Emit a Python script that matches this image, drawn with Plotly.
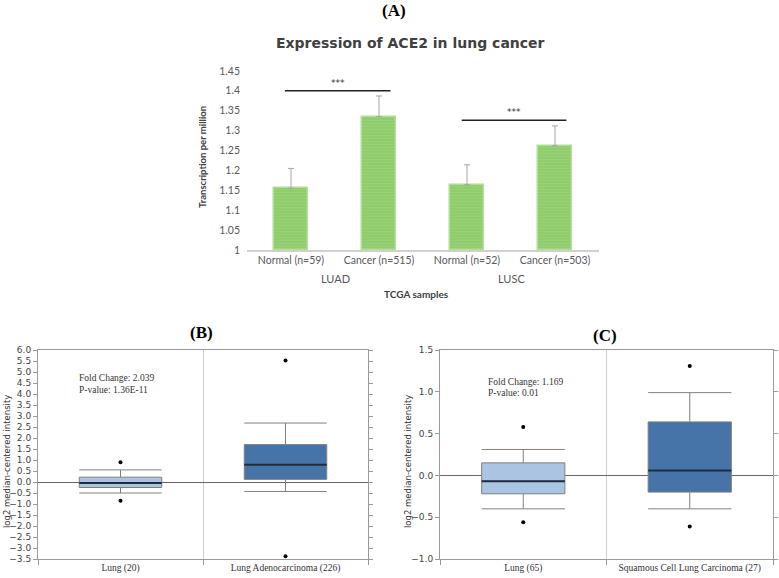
import plotly.graph_objects as go

# ---- panel A data (TCGA bar chart)
a_cats = ["Normal (n=59)", "Cancer (n=515)", "Normal (n=52)", "Cancer (n=503)"]
a_groups = ["LUAD", "LUSC"]
a_tpm = [1.155, 1.335, 1.164, 1.262]
a_err = [0.05, 0.052, 0.05, 0.05]
a_sig_from = [-0.07, 1.94]
a_sig_to = [1.13, 3.13]
a_sig_y = [1.40, 1.326]

# ---- panel B data (Oncomine, lung adenocarcinoma)
b_cats = ["Lung (20)", "Lung Adenocarcinoma (226)"]
b_q1 = [-0.25, 0.12]
b_med = [-0.05, 0.78]
b_q3 = [0.22, 1.70]
b_low = [-0.50, -0.43]
b_high = [0.55, 2.68]
b_out_hi = [0.90, 5.52]
b_out_lo = [-0.85, -3.38]

# ---- panel C data (Oncomine, squamous cell carcinoma)
c_cats = ["Lung (65)", "Squamous Cell Lung Carcinoma (27)"]
c_q1 = [-0.22, -0.20]
c_med = [-0.07, 0.06]
c_q3 = [0.15, 0.64]
c_low = [-0.40, -0.40]
c_high = [0.31, 0.99]
c_out_hi = [0.58, 1.31]
c_out_lo = [-0.56, -0.61]

box_fill = ["#aac4e2", "#4674a8"]

W, H = 779, 578
def px(x):
    return x / W
def py(y):
    return 1 - y / H

fig = go.Figure()

# panel A bars
fig.add_trace(go.Bar(
    x=list(range(len(a_cats))), y=[v - 1 for v in a_tpm], base=1, width=0.39,
    marker=dict(color="#8fcc6b", line=dict(color="#b2de98", width=1.5),
                pattern=dict(shape="-", fgcolor="#a9da8c", size=3, solidity=0.25)),
    error_y=dict(type="data", symmetric=False, array=a_err, arrayminus=[0] * 4,
                 color="#a6a6a6", thickness=1, width=3),
    xaxis="x", yaxis="y", showlegend=False))
for i in range(len(a_sig_y)):
    fig.add_trace(go.Scatter(x=[a_sig_from[i], a_sig_to[i]], y=[a_sig_y[i]] * 2,
                             mode="lines", line=dict(color="#222", width=1.5),
                             xaxis="x", yaxis="y", showlegend=False))
    fig.add_annotation(x=(a_sig_from[i] + a_sig_to[i]) / 2, y=a_sig_y[i], xref="x", yref="y",
                       text="***", showarrow=False, yanchor="bottom", yshift=1,
                       font=dict(family="DejaVu Sans", size=9, color="#333"))
for gi, g in enumerate(a_groups):
    fig.add_annotation(x=gi * 2 + 0.5, y=py(278), xref="x", yref="paper", text=g,
                       showarrow=False, yanchor="middle",
                       font=dict(family="Lato", size=11, color="#595959"))

# panels B and C boxes
panels = [
    ("x2", "y2", b_q1, b_med, b_q3, b_low, b_high, b_out_hi, b_out_lo),
    ("x3", "y3", c_q1, c_med, c_q3, c_low, c_high, c_out_hi, c_out_lo),
]
for xa, ya, q1, med, q3, lo, hi, ohi, olo in panels:
    for i in range(2):
        fig.add_trace(go.Box(
            x=[i], q1=[q1[i]], median=[med[i]], q3=[q3[i]], lowerfence=[lo[i]], upperfence=[hi[i]],
            width=0.5, whiskerwidth=1, fillcolor=box_fill[i], line=dict(color="#808080", width=1),
            boxpoints=False, xaxis=xa, yaxis=ya, showlegend=False, hoverinfo="skip"))
        fig.add_trace(go.Scatter(x=[i - 0.25, i + 0.25], y=[med[i], med[i]], mode="lines",
                                 line=dict(color="#1c2c42", width=2),
                                 xaxis=xa, yaxis=ya, showlegend=False))
    fig.add_trace(go.Scatter(x=[0, 1, 0, 1], y=ohi + olo, mode="markers",
                             marker=dict(color="black", size=4),
                             xaxis=xa, yaxis=ya, showlegend=False))

ax_a = dict(showgrid=False, zeroline=False, ticks="", automargin=False)
fig.update_layout(
    width=W, height=H, margin=dict(l=0, r=0, t=0, b=0),
    plot_bgcolor="white", paper_bgcolor="white", boxmode="overlay", bargap=0,
    xaxis=dict(domain=[px(247), px(599)], range=[-0.5, 3.5], tickvals=list(range(4)), ticktext=a_cats,
               showline=True, linecolor="#d0d0d0", linewidth=1.5, anchor="y",
               tickfont=dict(family="Lato", size=10.5, color="#595959"), **ax_a),
    yaxis=dict(domain=[py(250), py(70.9)], range=[1, 1.45], anchor="x",
               tickvals=[1 + 0.05 * k for k in range(10)],
               ticktext=["1", "1.05", "1.1", "1.15", "1.2", "1.25", "1.3", "1.35", "1.4", "1.45"],
               showline=False, ticklabelstandoff=6,
               tickfont=dict(family="Lato", size=10.5, color="#595959"), **ax_a),
)

for n, (x0, x1, rng, cats) in zip(["2", "3"], [(38, 368, [-3.5, 6.0], b_cats),
                                                (440, 773, [-1.0, 1.5], c_cats)]):
    fig.update_layout({
        "xaxis" + n: dict(domain=[px(x0), px(x1)], range=[-0.5, 1.5], anchor="y" + n,
                          tickvals=[0, 1], ticktext=cats, ticks="", showgrid=False, zeroline=False,
                          showline=True, mirror=True, linecolor="#9a9a9a", linewidth=1,
                          automargin=False,
                          minor=dict(tick0=-0.5, dtick=1, ticks="outside", ticklen=5,
                                     tickcolor="#9a9a9a", showgrid=True, gridcolor="#cfcfcf"),
                          tickfont=dict(family="Liberation Serif", size=9.5, color="#333")),
        "yaxis" + n: dict(domain=[py(559), py(350)], range=rng, dtick=0.5, tickformat=".1f",
                          anchor="x" + n, ticks="outside", ticklen=4, tickcolor="#9a9a9a",
                          showline=True, mirror="ticks", linecolor="#9a9a9a", linewidth=1,
                          showgrid=False, zeroline=True, zerolinecolor="#666", zerolinewidth=1.2,
                          automargin=False,
                          tickfont=dict(family="DejaVu Sans", size=9, color="#444")),
    })

texts = [
    dict(x=px(394), y=py(11), text="<b>(A)</b>", font=dict(family="Liberation Serif", size=17, color="black")),
    dict(x=px(410), y=py(43), text="<b>Expression of ACE2 in lung cancer</b>",
         font=dict(family="DejaVu Sans", size=14, color="#404040")),
    dict(x=px(202), y=py(157), text="<b>Transcription per million</b>", textangle=-90,
         font=dict(family="Lato", size=9.5, color="#404040")),
    dict(x=px(417), y=py(294), text="<b>TCGA samples</b>",
         font=dict(family="Lato", size=10, color="#404040")),
    dict(x=px(202), y=py(333), text="<b>(B)</b>", font=dict(family="Liberation Serif", size=17, color="black")),
    dict(x=px(605), y=py(335), text="<b>(C)</b>", font=dict(family="Liberation Serif", size=17, color="black")),
    dict(x=px(7), y=py(462), text="log2 median-centered intensity", textangle=-90,
         font=dict(family="DejaVu Sans", size=8.5, color="#333")),
    dict(x=px(408), y=py(462), text="log2 median-centered intensity", textangle=-90,
         font=dict(family="DejaVu Sans", size=8.5, color="#333")),
]
for t in texts:
    fig.add_annotation(xref="paper", yref="paper", showarrow=False,
                       xanchor="center", yanchor="middle", **t)

notes = [(77, 378, "Fold Change: 2.039"), (77, 390, "P-value: 1.36E-11"),
         (486, 382, "Fold Change: 1.169"), (486, 393, "P-value: 0.01")]
for x, y, t in notes:
    fig.add_annotation(xref="paper", yref="paper", x=px(x), y=py(y), text=t, showarrow=False,
                       xanchor="left", yanchor="middle",
                       font=dict(family="Liberation Serif", size=9.5, color="#333"))

# the page body has an 8px default margin; drop it so the figure fills the window
fig.write_html("out.html", config={"displayModeBar": False},
               post_script="document.body.style.margin='0';")
